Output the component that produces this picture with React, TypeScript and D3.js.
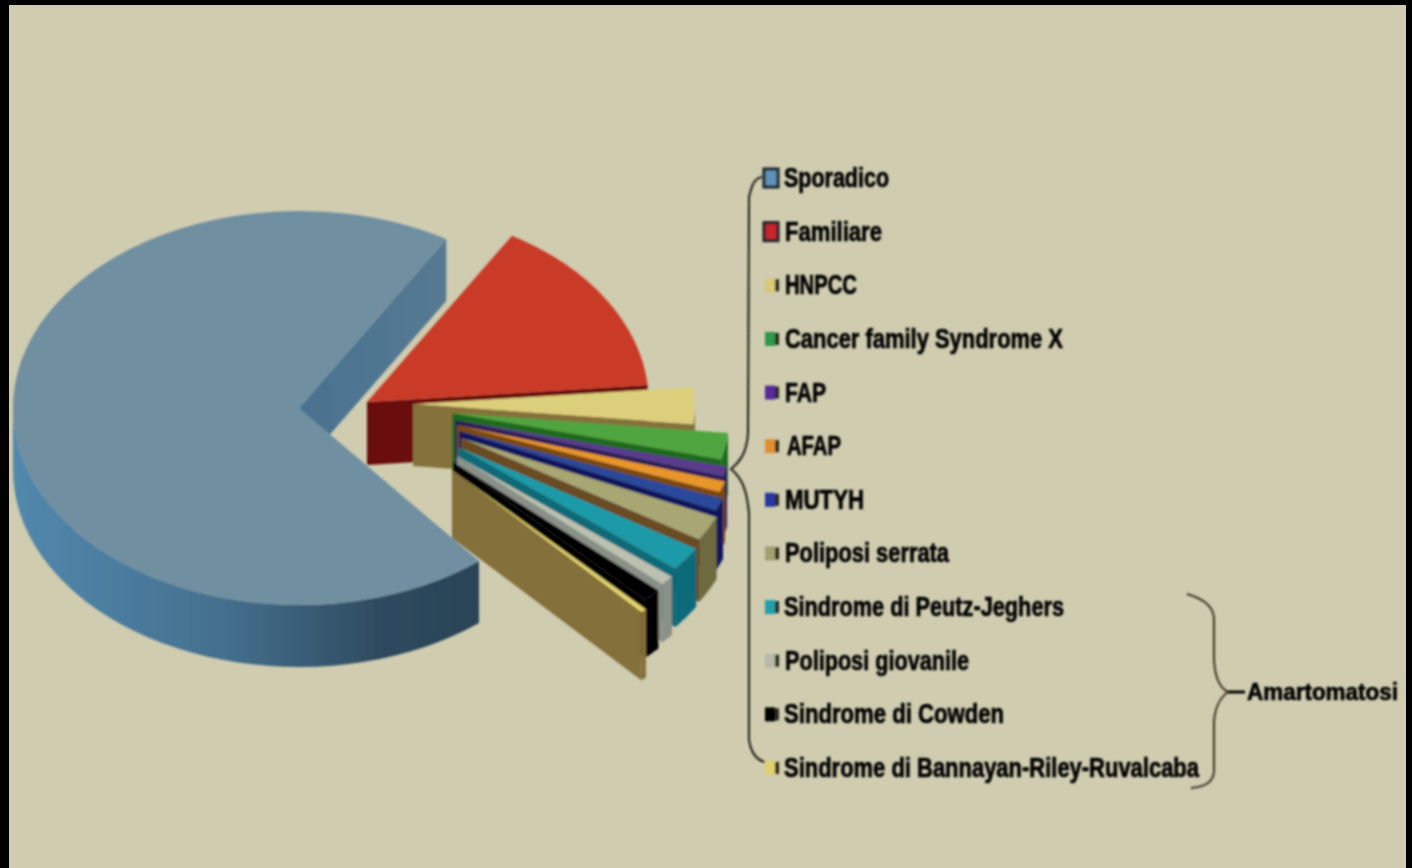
import * as React from 'react';
import * as d3 from 'd3';

// values (percent of the pie)
const labels = [
    'Sporadico', 'Familiare', 'HNPCC', 'Cancer family Syndrome X', 'FAP', 'AFAP', 'MUTYH',
    'Poliposi serrata', 'Sindrome di Peutz-Jeghers', 'Poliposi giovanile', 'Sindrome di Cowden',
    'Sindrome di Bannayan-Riley-Ruvalcaba'
];
const values = [70.1, 15.15, 3.09, 2.24, 0.84, 0.95, 1.07, 2.13, 2.08, 0.84, 1.12, 0.36];

const topColors = ['#6f8fa1', '#c93a26', '#dccf7c', '#4fa53f', '#5a3a8c', '#e8952a', '#2b4a9a', '#a8a672', '#1f9aa8', '#bcc0b0', '#050505', '#e3d470'];
const wallColors = ['url(#blueWall)', '#6b1010', '#85713a', '#1f6b1f', '#2a1a58', '#7a4a10', '#10155f', '#6a4c24', '#0d6a78', '#8a9088', '#000000', '#84703a'];
const rimColors = ['url(#blueRim)', '#6b1010', '#6a5a2c', '#1f6b1f', '#2a1a58', '#7a4a10', '#10155f', '#6e6a40', '#0d6a78', '#8a9088', '#000000', '#84703a'];
const swatchColors = ['#5f93b8', '#c8262a', '#d8c878', '#2f9a48', '#5a2a9a', '#e09030', '#2838a0', '#a0a070', '#20a0a8', '#b8b8a8', '#050505', '#e0d070'];

// how far each wedge is pulled out of the pie, in px, and how much it shrinks
const explodeX = [0, 68, 114, 153, 156, 158, 160, 162, 159, 158, 154, 153];
const explodeY = [0, -6, -4, 5, 12, 17, 23, 30, 39, 48, 54, 62];
const radii = [1, 0.985, 0.985, 0.97, 0.98, 0.98, 0.985, 0.98, 0.98, 0.97, 0.97, 0.98];
const depths = [62, 63, 62, 60, 60, 60, 60, 62, 58, 58, 58, 68];
const labelWidths = [105, 97, 72, 278, 41, 54, 79, 164, 280, 184, 220, 415];
const labelStarts = [784, 785, 785, 785, 785, 787, 785, 785, 784, 785, 784, 784];

const width = 1412;
const height = 868;
const cx = 299;
const cy = 408;
const rx = 286;
const ry = 197;
const startAngle = 141 * Math.PI / 180;
const openGap = 3.5 * Math.PI / 180;

const pie = d3.pie<number>().sort(null).startAngle(startAngle).endAngle(startAngle + 2 * Math.PI - openGap);
const arc = d3.arc<d3.PieArcDatum<number>>().innerRadius(0);
const line = d3.line();
const labelY = d3.scalePoint<string>().domain(labels).range([178, 768]);

const onRim = (a: number, ax: number, ay: number, k: number): [number, number] =>
    [ax + k * rx * Math.sin(a), ay - k * ry * Math.cos(a)];

function edgeWall(a: number, ax: number, ay: number, k: number, depth: number) {
    const p = onRim(a, ax, ay, k);
    return line([[ax, ay], p, [p[0], p[1] + depth], [ax, ay + depth]]) + 'Z';
}

function rimWall(a0: number, a1: number, ax: number, ay: number, k: number, depth: number) {
    // wedges after the first turn go past 360 degrees
    const turn = a0 >= 2 * Math.PI ? 2 * Math.PI : 0;
    const from = Math.max(a0 - turn, Math.PI / 2);
    const to = Math.min(a1 - turn, 3 * Math.PI / 2);
    if (to <= from) return null;
    const steps = d3.range(0, 41).map(i => from + (to - from) * i / 40);
    const upper = steps.map(a => onRim(a, ax, ay, k));
    const lower = upper.map(p => [p[0], p[1] + depth] as [number, number]).reverse();
    return line([...upper, ...lower]) + 'Z';
}

const Wedge = ({ d, i }: { d: d3.PieArcDatum<number>, i: number }) => {
    const ax = cx + explodeX[i];
    const ay = cy + explodeY[i];
    const k = radii[i];
    const depth = depths[i];
    const rim = rimWall(d.startAngle, d.endAngle, ax, ay, k, depth);
    return <g>
        {rim && <path d={rim} fill={rimColors[i]} />}
        {Math.sin(d.startAngle) < 0 && <path d={edgeWall(d.startAngle, ax, ay, k, depth)} fill={wallColors[i]} />}
        {Math.sin(d.endAngle) > 0 && <path d={edgeWall(d.endAngle, ax, ay, k, depth)} fill={wallColors[i]} />}
        <path d={arc.outerRadius(rx * k)(d) || ''} fill={topColors[i]} transform={`translate(${ax},${ay}) scale(1,${ry / rx})`} />
    </g>;
};

export default function App() {
    const slices = pie(values);
    const drawOrder = [...d3.range(1, slices.length), 0];
    return <svg width={width} height={height} style={{ position: 'absolute', left: 0, top: 0, display: 'block' }}>
        <defs>
            <linearGradient id="blueRim" gradientUnits="userSpaceOnUse" x1="14" x2="477" y1="0" y2="0">
                <stop offset="0" stopColor="#5288ad" />
                <stop offset="0.45" stopColor="#44708e" />
                <stop offset="0.8" stopColor="#2e4a5e" />
                <stop offset="1" stopColor="#2a4458" />
            </linearGradient>
            <linearGradient id="blueWall" gradientUnits="userSpaceOnUse" x1="300" x2="445" y1="0" y2="0">
                <stop offset="0" stopColor="#4a7290" />
                <stop offset="1" stopColor="#557a93" />
            </linearGradient>
            <filter id="soft" x="-5%" y="-5%" width="110%" height="110%">
                <feGaussianBlur stdDeviation="0.8" />
            </filter>
        </defs>
        <rect width={width} height={height} fill="#000000" />
        <rect x={9} y={5} width={1397} height={863} fill="#cfccb0" />
        <g filter="url(#soft)">
            {drawOrder.map(i => <Wedge key={labels[i]} d={slices[i]} i={i} />)}
        </g>
        <g filter="url(#soft)">
            <path d="M762,177 C755,178 752,184 749,197 L748,433 C747,450 742,460 731,469 C742,478 747,490 749,514 L749,740 C751,752 756,760 765,762"
                fill="none" stroke="#1a1a12" strokeWidth={2} />
            <path d="M1187,594 C1200,598 1213,604 1214,618 L1214,660 C1215,678 1220,688 1228,692 C1220,698 1215,706 1214,722 L1214,772 C1213,782 1205,787 1191,788"
                fill="none" stroke="#3a3222" strokeWidth={2} />
            <path d="M1228,692 L1245,692" stroke="#050505" strokeWidth={3} />
            {labels.map((label, i) => {
                const y = labelY(label) as number;
                const big = i < 2;
                return <g key={label}>
                    <rect x={big ? 764 : 765} y={y - (big ? 9 : 7)} width={big ? 14 : 10} height={big ? 18 : 14}
                        fill={swatchColors[i]} stroke={big ? '#1a2228' : 'none'} strokeWidth={big ? 3 : 0} />
                    {!big && <rect x={775} y={y - 6} width={4} height={12} fill="#2a2a1a" />}
                    <text x={labelStarts[i]} y={y + 9} fontFamily="'Liberation Sans Narrow', 'Liberation Sans', sans-serif"
                        fontWeight={700} fontSize={27} fill="#050505" stroke="#050505" strokeWidth={0.7}
                        textLength={labelWidths[i]} lengthAdjust="spacingAndGlyphs">{label}</text>
                </g>;
            })}
            <text x={1247} y={700} fontFamily="'Liberation Sans Narrow', 'Liberation Sans', sans-serif"
                fontWeight={700} fontSize={23} fill="#050505" stroke="#050505" strokeWidth={0.7}
                textLength={151} lengthAdjust="spacingAndGlyphs">Amartomatosi</text>
        </g>
    </svg>;
}
